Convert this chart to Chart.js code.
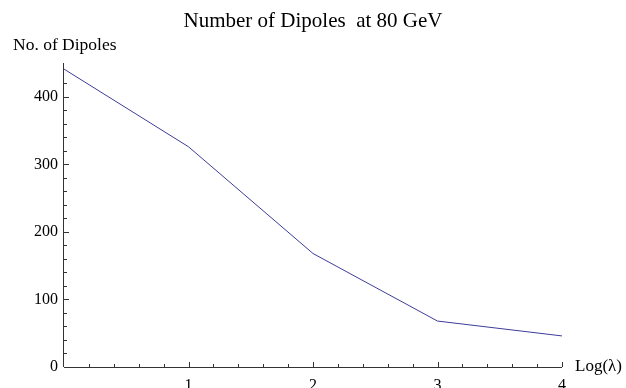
<!DOCTYPE html>
<html lang="en">
<head>
    <meta charset="UTF-8">
    <title>Number of Dipoles at 80 GeV</title>
    <script src="https://cdn.jsdelivr.net/npm/chart.js"></script>
    <style>
        html, body { margin: 0; padding: 0; background: #fff; }
        #wrap { width: 626px; height: 388px; }
    </style>
</head>
<body>
    <div id="wrap"><canvas id="myChart" width="626" height="388"></canvas></div>

    <script>
        // data: log(lambda) vs number of dipoles
        const logLambda = [0, 1, 2, 3, 4];
        const dipoles = [441, 326, 168, 68, 46];

        // axis setup
        const xMin = 0, xMax = 4, xStep = 0.2;
        const yMin = 0, yMax = 450, yStep = 20;
        const yLabelEvery = 100;

        const titleText = 'Number of Dipoles  at 80 GeV';
        const yAxisTitle = 'No. of Dipoles';
        const xAxisTitle = 'Log(\u03BB)';

        const serif = '"Liberation Serif", "Times New Roman", serif';
        const axisColor = '#333';
        const lineColor = '#3d3d99';

        const isWhole = v => Math.abs(v - Math.round(v)) < 1e-6;

        // Mathematica-like frame: axes through the origin with inward ticks
        const axesPlugin = {
            id: 'axesPlugin',
            afterDraw(chart) {
                const ctx = chart.ctx;
                const area = chart.chartArea;
                const xs = chart.scales.x;
                const ys = chart.scales.y;
                ctx.save();
                ctx.strokeStyle = axisColor;
                ctx.lineWidth = 1;

                ctx.beginPath();
                ctx.moveTo(area.left, area.bottom + 0.5);
                ctx.lineTo(area.right, area.bottom + 0.5);
                ctx.moveTo(area.left - 0.5, area.top);
                ctx.lineTo(area.left - 0.5, area.bottom);
                ctx.stroke();

                ctx.beginPath();
                xs.ticks.forEach(t => {
                    if (t.value <= xMin + 1e-6) return;
                    const px = Math.round(xs.getPixelForValue(t.value)) + 0.5;
                    const len = isWhole(t.value) ? 5 : 3;
                    ctx.moveTo(px, area.bottom);
                    ctx.lineTo(px, area.bottom - len);
                });
                ys.ticks.forEach(t => {
                    if (t.value <= yMin || t.value % yStep !== 0) return;
                    const py = Math.round(ys.getPixelForValue(t.value)) + 0.5;
                    const len = t.value % yLabelEvery === 0 ? 5 : 3;
                    ctx.moveTo(area.left, py);
                    ctx.lineTo(area.left + len, py);
                });
                ctx.stroke();

                // titles
                ctx.fillStyle = '#000';
                ctx.textBaseline = 'alphabetic';
                ctx.font = '21px ' + serif;
                ctx.textAlign = 'center';
                ctx.fillText(titleText, chart.width / 2, 27);

                ctx.font = '17.5px ' + serif;
                ctx.textAlign = 'left';
                ctx.fillText(yAxisTitle, 13, 50);
                ctx.font = '17px ' + serif;
                ctx.fillText(xAxisTitle, 575, 371);
                ctx.restore();
            }
        };

        const ctx = document.getElementById('myChart').getContext('2d');
        new Chart(ctx, {
            type: 'scatter',
            data: {
                datasets: [{
                    label: 'Dipoles',
                    data: logLambda.map((x, i) => ({ x: x, y: dipoles[i] })),
                    showLine: true,
                    borderColor: lineColor,
                    borderWidth: 1,
                    pointRadius: 0,
                    tension: 0,
                    clip: false
                }]
            },
            options: {
                responsive: false,
                animation: false,
                layout: { padding: { left: 0, right: 64, top: 63, bottom: 0 } },
                plugins: {
                    legend: { display: false },
                    title: { display: false },
                    tooltip: { enabled: false }
                },
                scales: {
                    x: {
                        type: 'linear',
                        min: xMin,
                        max: xMax,
                        grid: { display: false, drawTicks: false },
                        border: { display: false },
                        afterFit(scale) { scale.height = 21; },
                        ticks: {
                            stepSize: xStep,
                            autoSkip: false,
                            maxRotation: 0,
                            padding: 9,
                            color: '#000',
                            font: { family: serif, size: 16 },
                            callback: v => (isWhole(v) && v > 0) ? String(Math.round(v)) : ''
                        }
                    },
                    y: {
                        type: 'linear',
                        min: yMin,
                        max: yMax,
                        grid: { display: false, drawTicks: false },
                        border: { display: false },
                        afterFit(scale) { scale.width = 64; },
                        ticks: {
                            stepSize: yStep,
                            autoSkip: false,
                            padding: 6,
                            color: '#000',
                            font: { family: serif, size: 16 },
                            callback: v => (v % yLabelEvery === 0) ? String(v) : ''
                        }
                    }
                }
            },
            plugins: [axesPlugin]
        });
    </script>
</body>
</html>
